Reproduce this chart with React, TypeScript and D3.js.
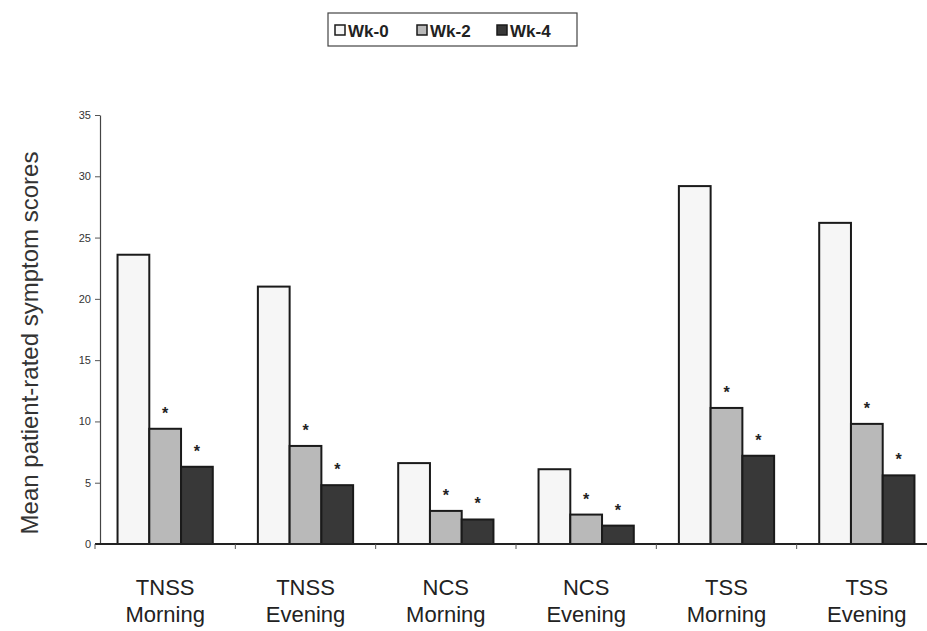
import { useEffect, useRef } from "react";
import * as d3 from "d3";

const categories = [
  ["TNSS", "Morning"],
  ["TNSS", "Evening"],
  ["NCS", "Morning"],
  ["NCS", "Evening"],
  ["TSS", "Morning"],
  ["TSS", "Evening"],
];
const series = ["Wk-0", "Wk-2", "Wk-4"];
const wk0 = [23.6, 21.0, 6.6, 6.1, 29.2, 26.2];
const wk2 = [9.4, 8.0, 2.7, 2.4, 11.1, 9.8];
const wk4 = [6.3, 4.8, 2.0, 1.5, 7.2, 5.6];
const yTicks = [0, 5, 10, 15, 20, 25, 30, 35];

const fills = ["#f6f6f6", "#b9b9b9", "#383838"];

const App = () => {
  const svgRef = useRef<SVGSVGElement>(null);

  useEffect(() => {
    const svg = d3.select(svgRef.current);
    svg.selectAll("*").remove();

    const values = [wk0, wk2, wk4];
    const names = categories.map((c) => c.join(" "));

    const x = d3.scaleBand().domain(names).range([95, 937]);
    const xs = d3
      .scaleBand()
      .domain(series)
      .range([0, x.bandwidth()])
      .paddingOuter(0.71);
    const y = d3.scaleLinear().domain([0, 35]).range([544, 115]);

    // y axis
    const yAxis = svg
      .append("g")
      .attr("transform", "translate(100,0)")
      .call(d3.axisLeft(y).tickValues(yTicks).tickSize(5).tickSizeOuter(0));
    yAxis.select(".domain").attr("stroke", "#444").attr("stroke-width", 1.2);
    yAxis.selectAll(".tick line").attr("stroke", "#555");
    yAxis
      .selectAll(".tick text")
      .attr("font-family", "Liberation Sans, Arial, sans-serif")
      .attr("font-size", 11)
      .attr("fill", "#333")
      .attr("x", -9);

    // bars
    values.forEach((vals, si) => {
      svg
        .append("g")
        .selectAll("rect")
        .data(vals)
        .enter()
        .append("rect")
        .attr("x", (d, i) => (x(names[i]) || 0) + (xs(series[si]) || 0))
        .attr("y", (d) => y(d))
        .attr("width", xs.bandwidth())
        .attr("height", (d) => y(0) - y(d))
        .attr("fill", fills[si])
        .attr("stroke", "#1a1a1a")
        .attr("stroke-width", 2);

      if (si > 0) {
        svg
          .append("g")
          .selectAll("text")
          .data(vals)
          .enter()
          .append("text")
          .attr("x", (d, i) => (x(names[i]) || 0) + (xs(series[si]) || 0) + xs.bandwidth() / 2)
          .attr("y", (d) => y(d) - 10)
          .attr("text-anchor", "middle")
          .attr("font-family", "Liberation Sans, Arial, sans-serif")
          .attr("font-size", 16)
          .attr("font-weight", "bold")
          .attr("fill", "#222")
          .text("*");
      }
    });

    // x axis
    const xAxis = svg.append("g");
    xAxis
      .append("line")
      .attr("x1", 95)
      .attr("x2", 927)
      .attr("y1", y(0))
      .attr("y2", y(0))
      .attr("stroke", "#222")
      .attr("stroke-width", 2);
    xAxis
      .selectAll("line.tk")
      .data(names)
      .enter()
      .append("line")
      .attr("class", "tk")
      .attr("x1", (d) => x(d) || 0)
      .attr("x2", (d) => x(d) || 0)
      .attr("y1", y(0))
      .attr("y2", y(0) + 5)
      .attr("stroke", "#555");
    const labels = xAxis
      .selectAll("text")
      .data(categories)
      .enter()
      .append("text")
      .attr("text-anchor", "middle")
      .attr("font-family", "Liberation Sans, Arial, sans-serif")
      .attr("font-size", 22)
      .attr("fill", "#222");
    labels
      .append("tspan")
      .attr("x", (d, i) => (x(names[i]) || 0) + x.bandwidth() / 2)
      .attr("y", 595)
      .text((d) => d[0]);
    labels
      .append("tspan")
      .attr("x", (d, i) => (x(names[i]) || 0) + x.bandwidth() / 2)
      .attr("y", 622)
      .text((d) => d[1]);

    // y label
    svg
      .append("text")
      .attr("transform", "translate(38,343) rotate(-90)")
      .attr("text-anchor", "middle")
      .attr("font-family", "Liberation Sans, Arial, sans-serif")
      .attr("font-size", 24)
      .attr("fill", "#333")
      .text("Mean patient-rated symptom scores");

    // legend
    const lg = svg.append("g");
    lg.append("rect")
      .attr("x", 328)
      .attr("y", 13)
      .attr("width", 249)
      .attr("height", 33)
      .attr("fill", "white")
      .attr("stroke", "#444")
      .attr("stroke-width", 1.2);
    const lx = [335, 417, 497];
    series.forEach((s, i) => {
      lg.append("rect")
        .attr("x", lx[i])
        .attr("y", 25)
        .attr("width", 10)
        .attr("height", 10)
        .attr("fill", fills[i])
        .attr("stroke", "#1a1a1a")
        .attr("stroke-width", 1.5);
      lg.append("text")
        .attr("x", lx[i] + 13)
        .attr("y", 37)
        .attr("font-family", "Liberation Sans, Arial, sans-serif")
        .attr("font-size", 17)
        .attr("font-weight", "bold")
        .attr("fill", "#222")
        .text(s);
    });
  }, []);

  return (
    <svg
      ref={svgRef}
      width={927}
      height={631}
      style={{ position: "absolute", left: 0, top: 0, background: "white" }}
    />
  );
};

export default App;
